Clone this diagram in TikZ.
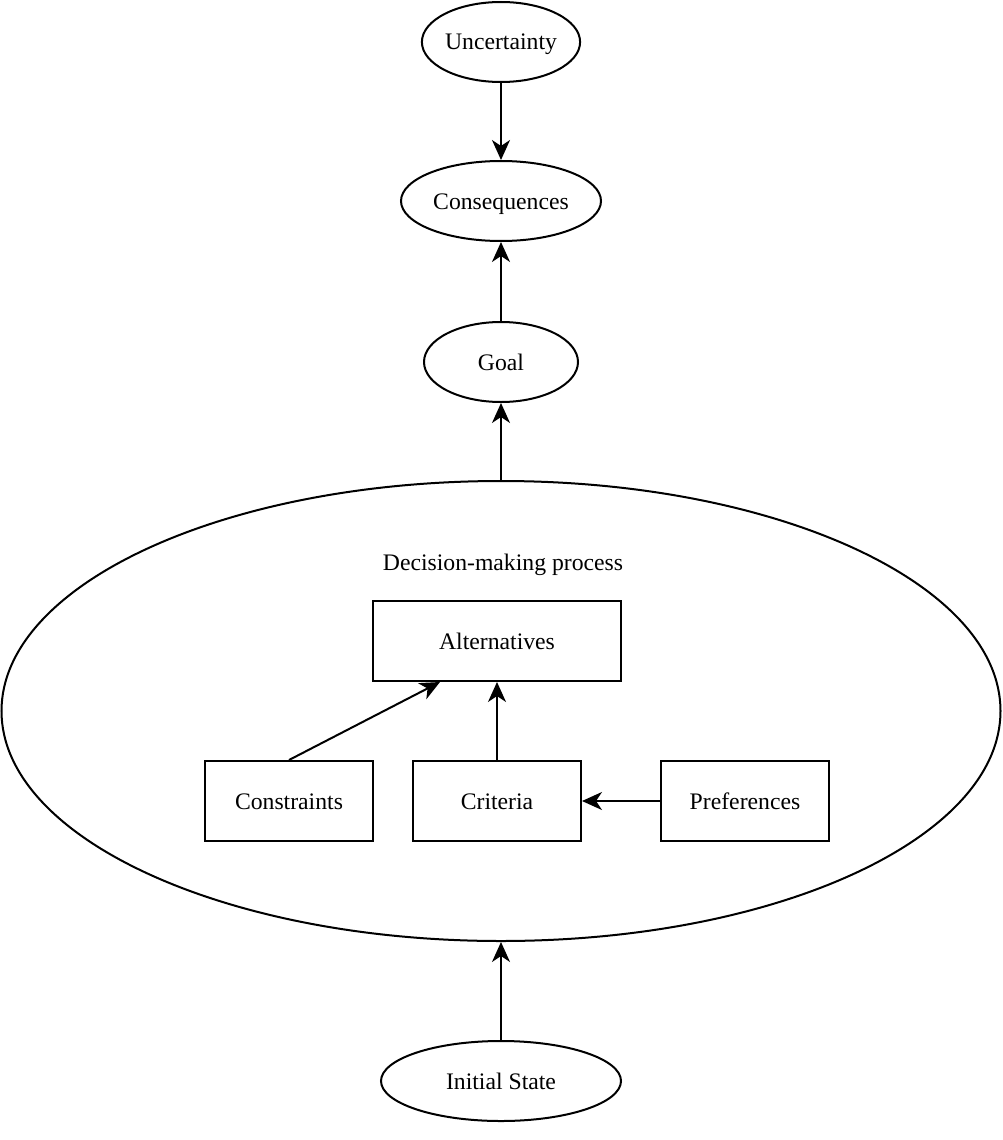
\documentclass[tikz,border=0pt]{standalone}
\usepackage{fontspec}
\setmainfont{Liberation Serif}
\usetikzlibrary{shapes.geometric,arrows.meta}
\begin{document}
\begin{tikzpicture}[x=1pt,y=-1pt,
  every node/.style={font=\fontsize{23.7}{28}\selectfont,text height=17pt,text depth=1pt},
  ell/.style={draw,ellipse,line width=2pt,inner sep=0pt},
  box/.style={draw,rectangle,line width=2pt,inner sep=0pt,minimum width=168pt,minimum height=80pt},
  conn/.style={line width=2pt,-{Stealth[length=20pt,width=18pt,inset=6pt]}}]
\useasboundingbox (0,0) rectangle (1002,1140);
\node[ell,minimum width=154pt,minimum height=80pt] (unc) at (501,42) {Uncertainty};
\node[ell,minimum width=200pt,minimum height=80pt] (cons) at (501,201) {Consequences};
\node[ell,minimum width=154pt,minimum height=80pt] (goal) at (501,362) {Goal};
\node[ell,minimum width=999pt,minimum height=460pt] (dmp) at (501,711) {};
\node (dmplabel) at (503,562) {Decision-making process};
\node[box,minimum width=248pt] (alt) at (497,641) {Alternatives};
\node[box] (constr) at (289,801) {Constraints};
\node[box] (crit) at (497,801) {Criteria};
\node[box] (pref) at (745,801) {Preferences};
\node[ell,minimum width=240pt,minimum height=80pt] (init) at (501,1081) {Initial State};
\coordinate (altin) at ([xshift=-57pt]alt.south);
\draw[conn] (unc) -- (cons);
\draw[conn] (goal) -- (cons);
\draw[conn] (dmp.north) -- (goal);
\draw[conn] (init) -- (dmp.south);
\draw[conn] (constr.north) -- (altin);
\draw[conn] (crit) -- (alt);
\draw[conn] (pref) -- (crit);
\end{tikzpicture}
\end{document}
